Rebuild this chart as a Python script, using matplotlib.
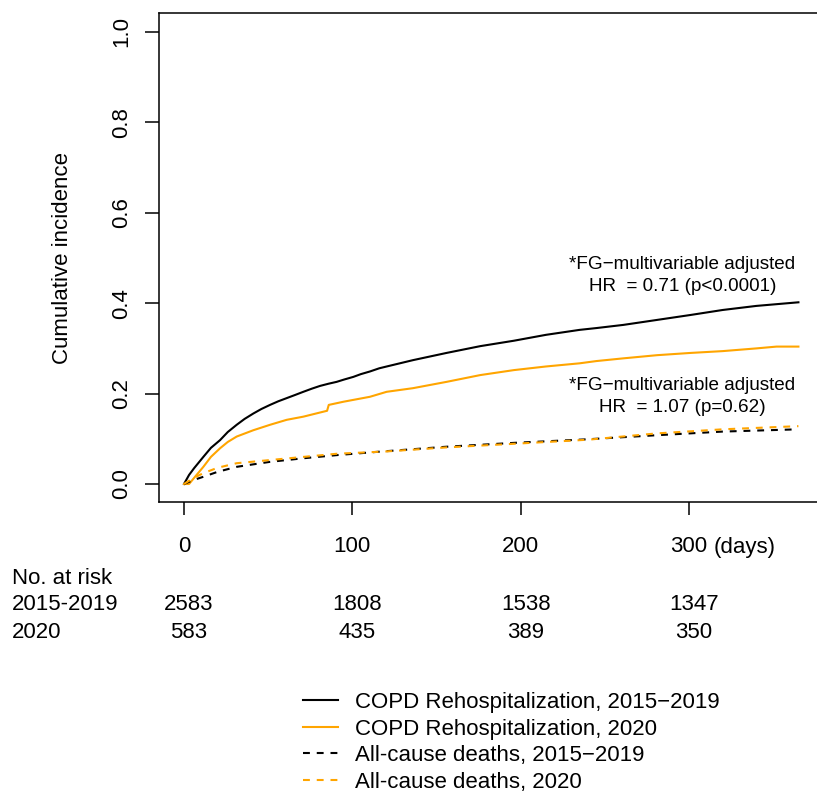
import matplotlib
matplotlib.use("Agg")
import matplotlib.pyplot as plt
from matplotlib.transforms import blended_transform_factory, offset_copy

plt.rcParams['font.family'] = ['Liberation Sans', 'DejaVu Sans']

# ---------------- data ----------------
copd_old_t = [0, 3, 6, 11.5, 16, 21.4, 26, 31.3, 36, 41.2, 46, 51.1, 56, 61, 66, 70.9, 76, 80.8,
              86, 90.7, 95, 100.6, 105, 110.5, 116, 120.4, 136, 156, 176, 196, 215, 235, 245,
              261, 281, 301, 320, 340, 365]
copd_old_v = [0, 0.02, 0.035, 0.060, 0.080, 0.097, 0.115, 0.131, 0.144, 0.156, 0.166, 0.175, 0.183,
              0.190, 0.197, 0.204, 0.211, 0.217, 0.222, 0.226, 0.231, 0.237, 0.243, 0.249, 0.256,
              0.260, 0.274, 0.290, 0.305, 0.317, 0.330, 0.341, 0.345, 0.352, 0.363, 0.374, 0.385,
              0.394, 0.402]

copd_new_t = [0, 3, 7, 11.5, 16, 21.4, 26, 31.3, 41.2, 51.1, 61, 70.9, 82.8, 85, 86, 94.7, 110.5,
              120.4, 136, 156, 176, 196, 215, 235, 245, 261, 281, 301, 320, 340, 352, 365]
copd_new_v = [0, 0.0, 0.018, 0.038, 0.060, 0.079, 0.093, 0.105, 0.119, 0.131, 0.142, 0.149, 0.160,
              0.162, 0.175, 0.182, 0.193, 0.204, 0.212, 0.226, 0.241, 0.252, 0.260, 0.267, 0.272,
              0.278, 0.285, 0.290, 0.294, 0.300, 0.304, 0.304]

death_old_t = [0, 5, 11.5, 20, 31.3, 51, 71, 91, 116, 156, 196, 240, 281, 320, 365]
death_old_v = [0, 0.008, 0.016, 0.027, 0.038, 0.049, 0.057, 0.064, 0.0715, 0.0825, 0.091, 0.099,
               0.108, 0.116, 0.121]

death_new_t = [0, 5, 11.5, 20, 31.3, 51, 71, 91, 120, 156, 196, 240, 281, 320, 365]
death_new_v = [0, 0.012, 0.024, 0.036, 0.046, 0.053, 0.060, 0.067, 0.072, 0.081, 0.089, 0.098,
               0.112, 0.121, 0.128]

x_ticks = [0, 100, 200, 300]
y_ticks = [0.0, 0.2, 0.4, 0.6, 0.8, 1.0]
risk_groups = ["2015-2019", "2020"]
risk_old = [2583, 1808, 1538, 1347]
risk_new = [583, 435, 389, 350]
legend_labels = ["COPD Rehospitalization, 2015\u22122019", "COPD Rehospitalization, 2020",
                 "All-cause deaths, 2015\u22122019", "All-cause deaths, 2020"]
hr_text_1 = ["*FG\u2212multivariable adjusted", "HR  = 0.71 (p<0.0001)"]
hr_text_2 = ["*FG\u2212multivariable adjusted", "HR  = 1.07 (p=0.62)"]

# ---------------- figure ----------------
W, H = 817, 792
fig = plt.figure(figsize=(W / 100, H / 100), dpi=100)
ax = fig.add_axes([159 / W, (H - 502) / H, (823 - 159) / W, (502 - 13) / H])
ax.set_xlim(-14.85, 379.6)
ax.set_ylim(-0.0398, 1.042)

FS = 16
FS_ANN = 13.6
ORANGE = "#FFA500"
lw = 1.5
l1, = ax.plot(copd_old_t, copd_old_v, color="black", lw=lw)
l2, = ax.plot(copd_new_t, copd_new_v, color=ORANGE, lw=lw)
l3, = ax.plot(death_old_t, death_old_v, color="black", lw=lw, dashes=(3.3, 3.3))
l4, = ax.plot(death_new_t, death_new_v, color=ORANGE, lw=lw, dashes=(3.3, 3.3))

for s in ax.spines.values():
    s.set_linewidth(1.1)

ax.set_xticks(x_ticks)
ax.set_xticklabels([str(v) for v in x_ticks], fontsize=FS)
ax.set_yticks(y_ticks)
ax.set_yticklabels([f"{v:.1f}" for v in y_ticks], fontsize=FS, rotation=90, va="center")
ax.tick_params(axis="x", length=9.4, width=1.1, pad=15)
ax.tick_params(axis="y", length=10, width=1.1, pad=9.5)

ax.annotate("(days)", xy=(300, 0), xycoords=("data", "axes fraction"),
            xytext=(25, -46), textcoords="offset pixels", ha="left", va="center", fontsize=FS)

fig.text(63 / W, 1 - 258 / H, "Cumulative incidence", rotation=90, ha="center", va="center",
         fontsize=FS)

# HR annotations
ax.text(296, 0.486, hr_text_1[0], ha="center", va="center", fontsize=FS_ANN)
ax.text(296, 0.437, hr_text_1[1], ha="center", va="center", fontsize=FS_ANN)
ax.text(296, 0.219, hr_text_2[0], ha="center", va="center", fontsize=FS_ANN)
ax.text(296, 0.170, hr_text_2[1], ha="center", va="center", fontsize=FS_ANN)

# numbers at risk
fig.text(12 / W, 1 - 578 / H, "No. at risk", ha="left", va="center", fontsize=FS)
fig.text(12 / W, 1 - 605 / H, risk_groups[0], ha="left", va="center", fontsize=FS)
fig.text(12 / W, 1 - 632 / H, risk_groups[1], ha="left", va="center", fontsize=FS)
btr = blended_transform_factory(ax.transData, fig.transFigure)
btr = offset_copy(btr, fig=fig, x=5, y=0, units="dots")
for xv, a, b in zip(x_ticks, risk_old, risk_new):
    fig.text(xv, 1 - 605 / H, str(a), ha="center", va="center", fontsize=FS, transform=btr)
    fig.text(xv, 1 - 632 / H, str(b), ha="center", va="center", fontsize=FS, transform=btr)

# legend
fig.legend([l1, l2, l3, l4], legend_labels, loc="upper left",
           bbox_to_anchor=(303 / W, 1 - 692 / H), frameon=False, fontsize=FS,
           handlelength=1.58, handletextpad=0.75, labelspacing=0.25,
           borderpad=0, borderaxespad=0)

fig.savefig("out.png", dpi=100)
